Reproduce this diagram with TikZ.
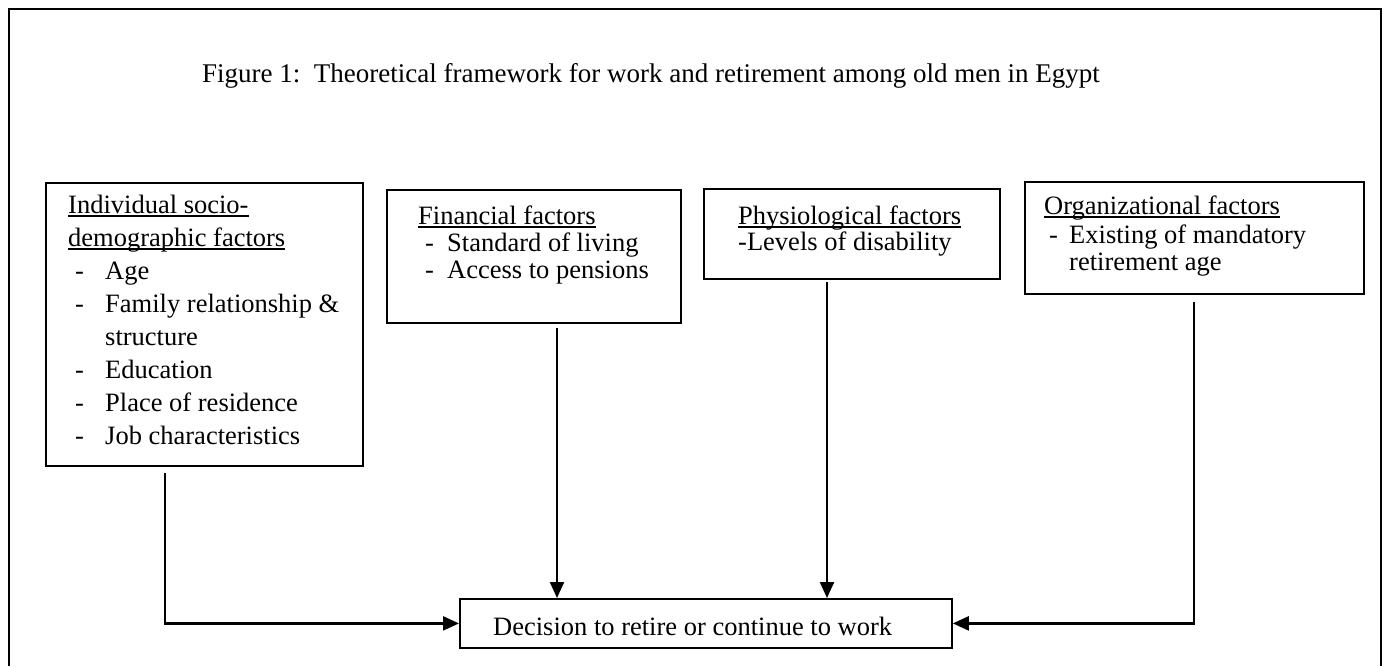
\documentclass[tikz,border=0pt]{standalone}
\usepackage{fontspec}
\setmainfont{Liberation Serif}
\usetikzlibrary{arrows.meta}
\newcommand\myul[1]{\setbox0\hbox{#1}\rlap{\rule[-3.5pt]{\wd0}{1.4pt}}\box0}
\newcommand\itm[2]{\makebox[#1][l]{-}#2}
\tikzset{
  box/.style={draw, line width=1.8pt, rectangle, inner sep=0pt, anchor=north west},
  txt/.style={anchor=base west, inner sep=0pt, font=\fontsize{26.5}{30}\selectfont},
  conn/.style={line width=2.2pt, -{Triangle[length=16pt,width=14pt]}},
  frame/.style={line width=2pt}
}
\begin{document}
\begin{tikzpicture}[x=1pt,y=-1pt]
\useasboundingbox (0,0) rectangle (1388,666);
\fill[white] (0,0) rectangle (1388,666);
\draw[frame] (9,666) -- (9,9) -- (1381,9) -- (1381,666);

% title
\node[txt, font=\fontsize{27}{30}\selectfont] (title) at (202,83) {Figure 1:\ \ Theoretical framework for work and retirement among old men in Egypt};

% boxes
\node[box, minimum width=317pt, minimum height=283pt] (ind) at (45,182) {};
\node[box, minimum width=294pt, minimum height=133pt] (fin) at (386,189) {};
\node[box, minimum width=296pt, minimum height=90pt] (phy) at (703,188) {};
\node[box, minimum width=339pt, minimum height=112pt] (org) at (1024,181) {};
\node[box, minimum width=492pt, minimum height=49pt] (dec) at (459,598) {};

% individual
\node[txt] (i1) at (68,213) {\myul{Individual socio-}};
\node[txt] (i2) at (68,246) {\myul{demographic factors}};
\node[txt] (i3) at (75,279.2) {\itm{30pt}{Age}};
\node[txt] (i4) at (75,312.2) {\itm{30pt}{Family relationship \&}};
\node[txt] (i5) at (105,345.2) {structure};
\node[txt] (i6) at (75,378.2) {\itm{30pt}{Education}};
\node[txt] (i7) at (75,411.2) {\itm{30pt}{Place of residence}};
\node[txt] (i8) at (75,444.2) {\itm{30pt}{Job characteristics}};

% financial
\node[txt] (f1) at (418,224) {\myul{Financial factors}};
\node[txt] (f2) at (425,251) {\itm{22pt}{Standard of living}};
\node[txt] (f3) at (425,278) {\itm{22pt}{Access to pensions}};

% physiological
\node[txt] (p1) at (738,224) {\myul{Physiological factors}};
\node[txt] (p2) at (738,250) {-Levels of disability};

% organizational
\node[txt] (o1) at (1044,214) {\myul{Organizational factors}};
\node[txt] (o2) at (1049,243) {\itm{20pt}{Existing of mandatory}};
\node[txt] (o3) at (1069,270) {retirement age};

% decision
\node[txt] (d1) at (493,635) {Decision to retire or continue to work};

% connectors
\coordinate (ia) at (165,473);
\coordinate (fa) at (557,328);
\coordinate (pa) at (827,282);
\coordinate (oa) at (1194,302);
\draw[conn] (ia) |- (dec.west);
\draw[conn] (fa) -- (fa |- dec.north);
\draw[conn] (pa) -- (pa |- dec.north);
\draw[conn] (oa) |- (dec.east);
\end{tikzpicture}
\end{document}
